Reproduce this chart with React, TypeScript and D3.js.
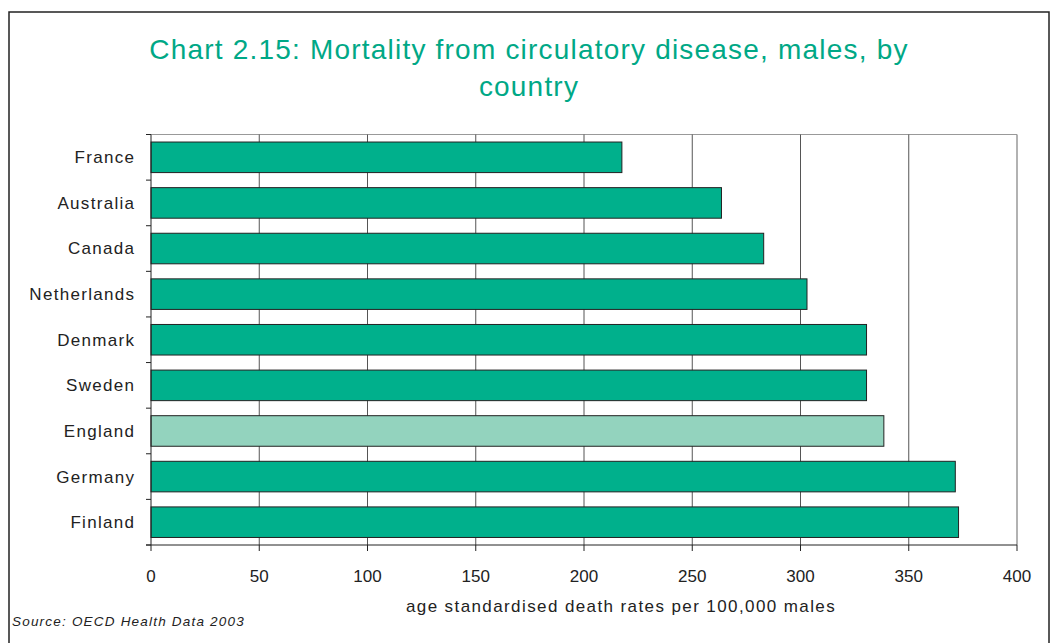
import React from "react";
import * as d3 from "d3";

const countries = ["France", "Australia", "Canada", "Netherlands", "Denmark", "Sweden", "England", "Germany", "Finland"];
const rates = [217.5, 263.5, 283, 303, 330.5, 330.5, 338.5, 371.5, 373];
const highlighted = ["England"];
const xTicks = [0, 50, 100, 150, 200, 250, 300, 350, 400];
const titleLines = ["Chart 2.15: Mortality from circulatory disease, males, by", "country"];
const xAxisTitle = "age standardised death rates per 100,000 males";
const sourceNote = "Source: OECD Health Data 2003";

const W = 1050;
const H = 643;
const plot = { left: 151, right: 1017, top: 134.5, bottom: 545 };
const FONT = "'Liberation Sans', Arial, sans-serif";

export default function App() {
  const x = d3.scaleLinear().domain([0, 400]).range([plot.left, plot.right]);
  const y = d3.scaleBand<string>().domain(countries).range([plot.top, plot.bottom]).paddingInner(0.33).paddingOuter(0.165);
  const bandStep = (plot.bottom - plot.top) / countries.length;
  const boundaries = d3.range(countries.length + 1).map((i) => plot.top + i * bandStep);

  return (
    <svg width={W} height={H} style={{ position: "absolute", left: 0, top: 0, background: "#fff" }}>
      <rect x={0} y={0} width={W} height={H} fill="#fff" />
      {/* outer frame */}
      <rect x={9} y={12} width={1040} height={H + 20} fill="none" stroke="#222" strokeWidth={1.5} />

      {/* title */}
      {titleLines.map((t, i) => (
        <text key={i} x={529} y={58.5 + i * 37} textAnchor="middle" fontFamily={FONT} fontSize={28} letterSpacing={1.2} fill="#00A886">
          {t}
        </text>
      ))}

      {/* plot border top/right */}
      <line x1={plot.left} x2={plot.right} y1={plot.top} y2={plot.top} stroke="#999" strokeWidth={1.2} />
      <line x1={plot.right} x2={plot.right} y1={plot.top} y2={plot.bottom} stroke="#999" strokeWidth={1.5} />

      {/* gridlines */}
      {xTicks.slice(1, -1).map((t) => (
        <line key={t} x1={x(t)} x2={x(t)} y1={plot.top} y2={plot.bottom} stroke="#555" strokeWidth={1} />
      ))}

      {/* bars */}
      {countries.map((c, i) => (
        <rect
          key={c}
          x={x(0)}
          y={y(c)!}
          width={x(rates[i]) - x(0)}
          height={y.bandwidth()}
          fill={highlighted.includes(c) ? "#93D3BE" : "#00B08C"}
          stroke="#222"
          strokeWidth={1}
        />
      ))}

      {/* y axis */}
      <line x1={plot.left} x2={plot.left} y1={plot.top} y2={plot.bottom} stroke="#222" strokeWidth={1} />
      {boundaries.map((b, i) => (
        <line key={i} x1={plot.left - 5} x2={plot.left} y1={b} y2={b} stroke="#222" strokeWidth={1} />
      ))}
      {countries.map((c) => (
        <text
          key={c}
          x={135.3}
          y={y(c)! + y.bandwidth() / 2}
          dy="0.35em"
          textAnchor="end"
          fontFamily={FONT}
          fontSize={17}
          letterSpacing={1.3}
          fill="#222"
        >
          {c}
        </text>
      ))}

      {/* x axis */}
      <line x1={plot.left - 5} x2={plot.right} y1={plot.bottom} y2={plot.bottom} stroke="#222" strokeWidth={1} />
      {xTicks.map((t) => (
        <g key={t}>
          <line x1={x(t)} x2={x(t)} y1={plot.bottom} y2={plot.bottom + 6} stroke="#222" strokeWidth={1} />
          <text x={x(t)} y={582} textAnchor="middle" fontFamily={FONT} fontSize={17} fill="#222">
            {t}
          </text>
        </g>
      ))}
      <text x={621} y={612} textAnchor="middle" fontFamily={FONT} fontSize={17} letterSpacing={1.4} fill="#222">
        {xAxisTitle}
      </text>
      <text x={12} y={626} fontFamily={FONT} fontSize={13.5} fontStyle="italic" letterSpacing={1.2} fill="#222">
        {sourceNote}
      </text>
    </svg>
  );
}
